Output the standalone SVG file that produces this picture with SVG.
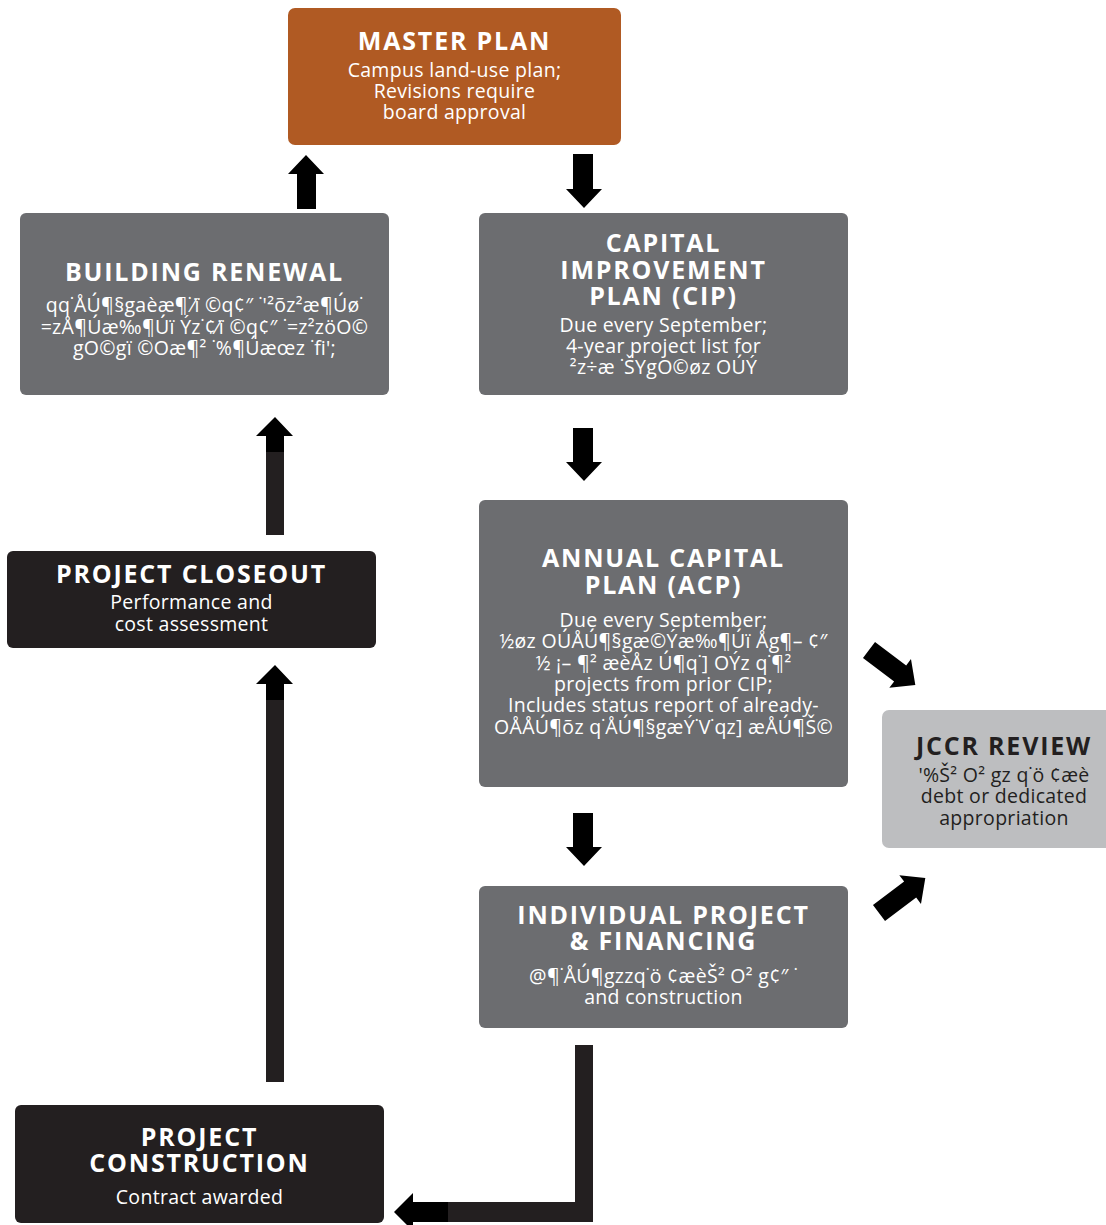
<svg xmlns="http://www.w3.org/2000/svg" width="1106" height="1225" viewBox="0 0 1106 1225">
<style>
.t{font-family:"Open Sans","Liberation Sans",sans-serif;font-weight:700;font-size:25px;letter-spacing:1.8px;text-anchor:middle;fill:#fff}
.b{font-family:"Open Sans","Liberation Sans",sans-serif;font-size:19.5px;letter-spacing:0.3px;text-anchor:middle;fill:#fff}
.dk{fill:#231F20}
.arr{fill:#000}
.shaft{fill:#231F20}
</style>
<rect width="1106" height="1225" fill="#fff"/>
<g id="connectors">
<polygon class="arr" points="573,154 593,154 593,189 602,189 584,208 566,189 573,189"/>
<polygon class="arr" points="573,428 593,428 593,462 602,462 584,481 566,462 573,462"/>
<polygon class="arr" points="573,813 593,813 593,847 602,847 584,866 566,847 573,847"/>
<polygon class="arr" points="306,155 324,174 316,174 316,209 297,209 297,174 288,174"/>
<rect class="shaft" x="266" y="435" width="18" height="100"/>
<polygon class="arr" points="275,417 293,436 284,436 284,452 266,452 266,436 256,436"/>
<rect class="shaft" x="266" y="683" width="18" height="399"/>
<polygon class="arr" points="275,665 293,684 284,684 284,700 266,700 266,684 256,684"/>
<polygon class="shaft" points="575,1045 593,1045 593,1222 448,1222 448,1202 575,1202"/>
<polygon class="arr" points="394,1212 413,1193 413,1202 448,1202 448,1222 413,1222 413,1231"/>
<polygon class="arr" transform="translate(869,650) rotate(37)" points="0,-10 39,-10 39,-18 58,0 39,18 39,10 0,10"/>
<polygon class="arr" transform="translate(879,913) rotate(-37)" points="0,-10 39,-10 39,-18 58,0 39,18 39,10 0,10"/>
</g>
<g id="master-plan">
<rect x="288" y="8" width="333" height="137" rx="7" fill="#B05A23"/>
<text class="t" x="454.5" y="50">MASTER PLAN</text>
<text class="b" x="454.5" y="77">Campus land-use plan;</text>
<text class="b" x="454.5" y="98">Revisions require</text>
<text class="b" x="454.5" y="119">board approval</text>
</g>
<g id="building-renewal">
<rect x="20" y="213" width="369" height="182" rx="6" fill="#6C6D70"/>
<text class="t" x="204.5" y="281">BUILDING RENEWAL</text>
<text class="b" x="204.5" y="312">qq˙ÅÚ¶§gaèæ¶˙⁄ï ©q¢″ ˙'²õz²æ¶Úø˙</text>
<text class="b" x="204.5" y="334">=zÅ¶Úæ‰¶Úï Ýz˙¢⁄ï ©q¢″ ˙=z²zöO©</text>
<text class="b" x="204.5" y="355">gO©gï ©Oæ¶² ˙%¶Úæœz ˙ﬁ';</text>
</g>
<g id="cip">
<rect x="479" y="213" width="369" height="182" rx="6" fill="#6C6D70"/>
<text class="t" x="663.5" y="252">CAPITAL</text>
<text class="t" x="663.5" y="279">IMPROVEMENT</text>
<text class="t" x="663.5" y="305">PLAN (CIP)</text>
<text class="b" x="663.5" y="332">Due every September;</text>
<text class="b" x="663.5" y="353">4-year project list for</text>
<text class="b" x="663.5" y="374">²z÷æ ˙ŠYgO©øz OÚÝ</text>
</g>
<g id="acp">
<rect x="479" y="500" width="369" height="287" rx="6" fill="#6C6D70"/>
<text class="t" x="663.5" y="567">ANNUAL CAPITAL</text>
<text class="t" x="663.5" y="594">PLAN (ACP)</text>
<text class="b" x="663.5" y="627">Due every September;</text>
<text class="b" x="663.5" y="648">½øz OÚÅÚ¶§gæ©Ýæ‰¶Úï Åg¶– ¢″</text>
<text class="b" x="663.5" y="670">½ ¡– ¶² æèÅz Ú¶q˙] OÝz q˙¶²</text>
<text class="b" x="663.5" y="691">projects from prior CIP;</text>
<text class="b" x="663.5" y="712">Includes status report of already-</text>
<text class="b" x="663.5" y="734">OÅÅÚ¶õz q˙ÅÚ¶§gæÝ˙V˙qz] æÅÚ¶Š©</text>
</g>
<g id="jccr-review">
<rect x="882" y="710" width="240" height="138" rx="7" fill="#BDBEC0"/>
<text class="t dk" x="1004" y="755">JCCR REVIEW</text>
<text class="b dk" x="1004" y="782">'%Š² O² gz q˙ö ¢æè</text>
<text class="b dk" x="1004" y="803">debt or dedicated</text>
<text class="b dk" x="1004" y="825">appropriation</text>
</g>
<g id="individual-project">
<rect x="479" y="886" width="369" height="142" rx="6" fill="#6C6D70"/>
<text class="t" x="663.5" y="924">INDIVIDUAL PROJECT</text>
<text class="t" x="663.5" y="950">&amp; FINANCING</text>
<text class="b" x="663.5" y="983">@¶˙ÅÚ¶gzzq˙ö ¢æèŠ² O² g¢″ ˙</text>
<text class="b" x="663.5" y="1004">and construction</text>
</g>
<g id="project-closeout">
<rect x="7" y="551" width="369" height="97" rx="6" fill="#231F20"/>
<text class="t" x="191.5" y="583">PROJECT CLOSEOUT</text>
<text class="b" x="191.5" y="609">Performance and</text>
<text class="b" x="191.5" y="631">cost assessment</text>
</g>
<g id="project-construction">
<rect x="15" y="1105" width="369" height="118" rx="6" fill="#231F20"/>
<text class="t" x="199.5" y="1146">PROJECT</text>
<text class="t" x="199.5" y="1172">CONSTRUCTION</text>
<text class="b" x="199.5" y="1204">Contract awarded</text>
</g>
</svg>
